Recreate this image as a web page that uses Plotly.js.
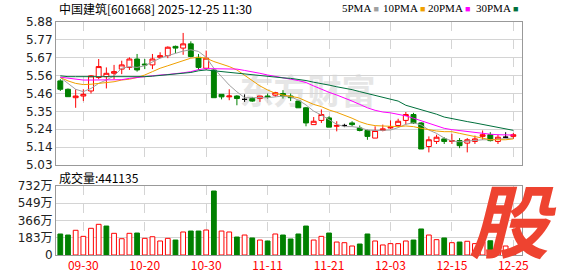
<!DOCTYPE html>
<html>
<head>
<meta charset="utf-8">
<script src="https://cdn.plot.ly/plotly-3.0.1.min.js"></script>
<style>html,body{margin:0;padding:0;background:#fff;}#chart{width:578px;height:276px;}</style>
</head>
<body>
<div id="chart"></div>
<script>
// ---- data ----
const dates = ['09-25','09-26','09-29','09-30','10-09','10-10','10-13','10-14','10-15','10-16','10-17','10-20','10-21','10-22','10-23','10-24','10-27','10-28','10-29','10-30','10-31','11-03','11-04','11-05','11-06','11-07','11-10','11-11','11-12','11-13','11-14','11-17','11-18','11-19','11-20','11-21','11-24','11-25','11-26','11-27','11-28','12-01','12-02','12-03','12-04','12-05','12-08','12-09','12-10','12-11','12-12','12-15','12-16','12-17','12-18','12-19','12-22','12-23','12-24','12-25'];
const openP  = [5.53,5.48,5.43,5.44,5.47,5.55,5.555,5.575,5.60,5.61,5.66,5.63,5.625,5.67,5.68,5.735,5.725,5.75,5.67,5.605,5.595,5.45,5.435,5.44,5.42,5.425,5.425,5.44,5.445,5.455,5.44,5.41,5.37,5.27,5.295,5.31,5.26,5.265,5.28,5.25,5.235,5.19,5.235,5.25,5.265,5.295,5.33,5.28,5.14,5.17,5.185,5.17,5.175,5.16,5.17,5.20,5.21,5.17,5.195,5.20];
const highP  = [5.54,5.485,5.48,5.48,5.565,5.66,5.61,5.625,5.65,5.67,5.69,5.66,5.69,5.70,5.735,5.74,5.815,5.765,5.69,5.71,5.60,5.45,5.48,5.445,5.45,5.435,5.44,5.455,5.465,5.475,5.455,5.41,5.375,5.315,5.36,5.32,5.29,5.275,5.29,5.265,5.24,5.26,5.27,5.295,5.305,5.345,5.34,5.285,5.20,5.21,5.195,5.215,5.19,5.19,5.205,5.235,5.225,5.21,5.225,5.22];
const lowP   = [5.47,5.435,5.37,5.41,5.455,5.54,5.485,5.54,5.57,5.595,5.585,5.60,5.60,5.665,5.665,5.695,5.685,5.67,5.595,5.595,5.43,5.42,5.415,5.385,5.405,5.405,5.405,5.425,5.435,5.425,5.41,5.37,5.26,5.27,5.28,5.255,5.23,5.255,5.26,5.23,5.18,5.19,5.23,5.245,5.255,5.27,5.275,5.125,5.105,5.155,5.155,5.155,5.13,5.105,5.155,5.18,5.17,5.155,5.19,5.185];
const closeP = [5.48,5.436,5.44,5.45,5.56,5.615,5.575,5.585,5.625,5.66,5.595,5.625,5.66,5.68,5.73,5.725,5.75,5.675,5.61,5.665,5.43,5.435,5.44,5.425,5.42,5.41,5.44,5.435,5.46,5.44,5.43,5.37,5.28,5.29,5.33,5.255,5.265,5.265,5.27,5.235,5.20,5.235,5.245,5.255,5.29,5.33,5.28,5.125,5.18,5.195,5.17,5.175,5.145,5.18,5.185,5.21,5.175,5.195,5.195,5.21];
const ma5  = [5.55,5.515,5.48,5.466,5.485,5.515,5.535,5.56,5.605,5.615,5.61,5.62,5.645,5.665,5.68,5.695,5.707,5.715,5.705,5.67,5.605,5.555,5.505,5.465,5.43,5.43,5.43,5.43,5.435,5.44,5.435,5.416,5.387,5.35,5.327,5.297,5.272,5.258,5.258,5.252,5.238,5.235,5.235,5.238,5.252,5.272,5.281,5.268,5.238,5.218,5.19,5.173,5.168,5.173,5.177,5.18,5.18,5.183,5.185,5.19];
const ma10 = [5.55,5.53,5.515,5.508,5.51,5.515,5.52,5.525,5.535,5.54,5.55,5.565,5.585,5.605,5.62,5.635,5.648,5.665,5.67,5.665,5.645,5.63,5.615,5.595,5.565,5.53,5.50,5.476,5.456,5.446,5.44,5.43,5.41,5.39,5.377,5.357,5.343,5.327,5.308,5.287,5.272,5.264,5.262,5.262,5.258,5.262,5.258,5.248,5.238,5.232,5.228,5.228,5.218,5.208,5.198,5.19,5.18,5.18,5.18,5.185];
const ma20 = [5.552,5.545,5.538,5.535,5.535,5.535,5.535,5.535,5.537,5.545,5.55,5.558,5.562,5.565,5.568,5.572,5.578,5.585,5.597,5.603,5.603,5.602,5.601,5.60,5.592,5.585,5.575,5.565,5.558,5.55,5.54,5.532,5.52,5.50,5.48,5.462,5.446,5.43,5.41,5.39,5.37,5.355,5.345,5.34,5.333,5.322,5.308,5.292,5.278,5.262,5.248,5.24,5.234,5.228,5.222,5.217,5.213,5.21,5.209,5.208];
const ma30 = [5.56,5.555,5.555,5.555,5.555,5.555,5.555,5.555,5.555,5.553,5.552,5.555,5.558,5.562,5.566,5.57,5.575,5.58,5.59,5.595,5.59,5.585,5.58,5.575,5.57,5.565,5.56,5.556,5.552,5.548,5.545,5.54,5.532,5.522,5.515,5.505,5.495,5.487,5.478,5.466,5.455,5.442,5.432,5.424,5.41,5.385,5.372,5.36,5.347,5.332,5.315,5.305,5.296,5.288,5.28,5.271,5.262,5.253,5.245,5.236];
const volume = [222,211,261,197,282,324,306,229,172,229,232,176,193,148,176,158,243,253,253,264,676,253,243,190,211,180,158,148,222,211,169,222,306,158,197,232,137,130,95,116,222,148,106,120,120,148,158,275,211,162,180,130,137,145,120,140,150,110,95,44.1];
const volUp = [0,0,1,1,1,1,0,1,1,1,0,1,1,1,1,0,1,0,0,1,0,1,1,0,1,0,1,0,1,0,0,0,0,1,1,0,1,1,1,0,0,1,1,1,1,1,0,0,1,1,0,1,0,1,1,1,0,1,1,1];
const xTickLabels = ['09-30','10-20','10-30','11-11','11-21','12-03','12-15','12-25'];
const priceTickLabels = ['5.03','5.14','5.24','5.35','5.46','5.56','5.67','5.77','5.88'];
const volTickLabels = ['0','183万','366万','549万','732万'];
const volTickValues = [0,183,366,549,732];
const maNames = ['5PMA','10PMA','20PMA','30PMA'];
const lastVolume = '441135';

// ---- styles ----
const RED = '#ff0000', GREEN = '#008000';
const maColors = ['#a0a0a0','#f0a000','#ff00ff','#00703c'];
const priceMin = 5.03, priceMax = 5.88;
const priceTickVals = priceTickLabels.map((_, k) => priceMin + k * (priceMax - priceMin) / (priceTickLabels.length - 1));

const isDoji = openP.map((o, i) => o === closeP[i]);
const pick = (arr, keep) => arr.filter((_, i) => keep(i));
const normal = i => !isDoji[i];
const doji = i => isDoji[i];

const traces = [];
traces.push({
  type: 'candlestick', xaxis: 'x2', yaxis: 'y2', hoverinfo: 'skip',
  x: pick(dates, normal), open: pick(openP, normal), high: pick(highP, normal),
  low: pick(lowP, normal), close: pick(closeP, normal), whiskerwidth: 0,
  increasing: {line: {color: RED, width: 1}, fillcolor: '#ffffff'},
  decreasing: {line: {color: GREEN, width: 1}, fillcolor: GREEN}
});
traces.push({
  type: 'candlestick', xaxis: 'x2', yaxis: 'y2', hoverinfo: 'skip',
  x: pick(dates, doji), open: pick(openP, doji), high: pick(highP, doji),
  low: pick(lowP, doji), close: pick(closeP, doji), whiskerwidth: 0,
  increasing: {line: {color: '#000', width: 1}, fillcolor: '#000'},
  decreasing: {line: {color: '#000', width: 1}, fillcolor: '#000'}
});
[ma5, ma10, ma20, ma30].forEach((m, k) => traces.push({
  type: 'scatter', mode: 'lines', xaxis: 'x2', yaxis: 'y2', hoverinfo: 'skip',
  x: dates, y: m, line: {color: maColors[k], width: 1}
}));
traces.push({
  type: 'bar', xaxis: 'x', yaxis: 'y', hoverinfo: 'skip', x: dates, y: volume, width: 0.62,
  marker: {color: volUp.map(u => u ? '#ffffff' : GREEN),
           line: {color: volUp.map(u => u ? RED : GREEN), width: 1}}
});

const gridC = '#d4d4d4', lineC = '#999999';
const tickFont = {family: 'DejaVu Sans, Noto Sans CJK SC', size: 12, color: '#222'};
const xCommon = {
  type: 'category', categoryorder: 'array', categoryarray: dates,
  range: [-0.56, 60.13], showgrid: true, gridcolor: gridC, griddash: 'dash', gridwidth: 1,
  tickvals: xTickLabels, ticktext: xTickLabels, showline: true, linecolor: lineC, linewidth: 1,
  mirror: true, ticks: '', zeroline: false, fixedrange: true, rangeslider: {visible: false}
};

const annotations = [
  {xref: 'paper', yref: 'paper', x: 0.002, y: 1.058, xanchor: 'left', yanchor: 'middle', showarrow: false,
   text: '中国建筑[601668] 2025-12-25 11:30', font: {family: 'Noto Sans CJK SC', size: 12, color: '#000'}},
  {xref: 'paper', yref: 'paper', x: 0.002, y: 0.333, xanchor: 'left', yanchor: 'middle', showarrow: false,
   text: '成交量:' + lastVolume, font: {family: 'Noto Sans CJK SC', size: 12, color: '#000'}},
  {xref: 'paper', yref: 'paper', x: 0.98, y: 0.165, xanchor: 'center', yanchor: 'middle', showarrow: false,
   text: '股', font: {family: 'Noto Sans CJK SC', size: 80, color: '#ee4330', weight: 'bold', style: 'italic'}}
];
const legendX = [0.61, 0.698, 0.795, 0.896];
maNames.forEach((n, k) => annotations.push({
  xref: 'paper', yref: 'paper', x: legendX[k], y: 1.058, xanchor: 'left', yanchor: 'middle', showarrow: false,
  text: n + ' <span style="color:' + maColors[k] + ';font-size:9px">■</span>',
  font: {family: 'Liberation Serif', size: 11, color: '#000'}
}));

const layout = {
  width: 578, height: 276, margin: {l: 56, r: 56, t: 22, b: 21, pad: 0},
  paper_bgcolor: '#fff', plot_bgcolor: '#fff', showlegend: false,
  boxgap: 0.2, boxgroupgap: 0.2, bargap: 0.3,
  xaxis: Object.assign({}, xCommon, {anchor: 'y', tickfont: {family: 'Noto Sans CJK SC', size: 12, color: RED}}),
  xaxis2: Object.assign({}, xCommon, {anchor: 'y2', matches: 'x', showticklabels: false}),
  yaxis: {domain: [0, 0.2974], range: [0, 732], tickvals: volTickValues, ticktext: volTickLabels,
          showgrid: true, gridcolor: gridC, showline: true, linecolor: lineC, mirror: true, ticks: '',
          zeroline: false, tickfont: tickFont, fixedrange: true},
  yaxis2: {domain: [0.3863, 1], range: [priceMin, priceMax], tickvals: priceTickVals, ticktext: priceTickLabels,
           showgrid: true, gridcolor: gridC, showline: true, linecolor: lineC, mirror: true, ticks: '',
           zeroline: false, tickfont: tickFont, fixedrange: true},
  shapes: [{type: 'rect', xref: 'paper', yref: 'paper', x0: 0.34, x1: 0.74, y0: 0.6, y1: 0.78,
            line: {width: 0}, fillcolor: 'rgba(0,0,0,0)', layer: 'below',
            label: {text: '东方财富', textposition: 'middle center',
                    font: {family: 'Noto Sans CJK SC', size: 34, color: '#e6e6e6', weight: 'bold'}}}],
  annotations: annotations
};

Plotly.newPlot('chart', traces, layout, {staticPlot: true, displayModeBar: false});
</script>
</body>
</html>
